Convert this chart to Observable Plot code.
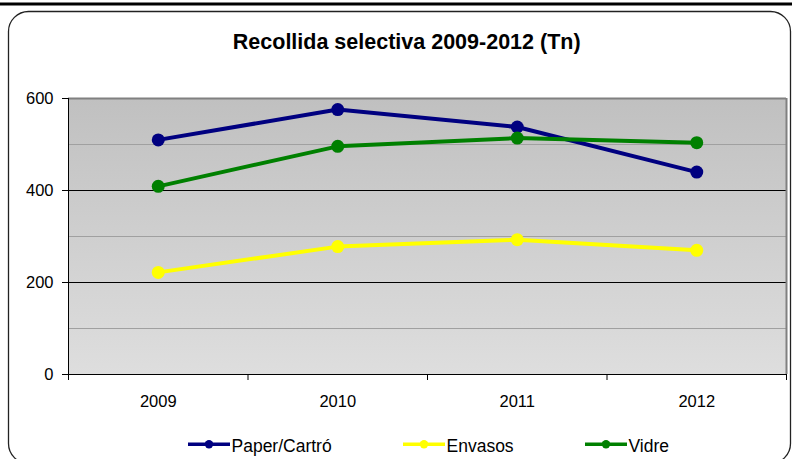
<!DOCTYPE html>
<html><head><meta charset="utf-8">
<script src="https://cdn.jsdelivr.net/npm/d3@7"></script>
<script src="https://cdn.jsdelivr.net/npm/@observablehq/plot@0.6"></script>
<style>body{margin:0;background:#fff} #chart svg{display:block}</style>
</head><body><div id="chart"></div>
<script>
const years = [2009, 2010, 2011, 2012];
const paperCarto = [510, 576, 538, 440];
const envasos = [222, 278, 293, 270];
const vidre = [409, 496, 514, 504];
const seriesNames = ["Paper/Cartró", "Envasos", "Vidre"];
const seriesColors = ["#000080", "#ffff00", "#008000"];
const yTicks = [0, 200, 400, 600];
const yMinor = [100, 300, 500];
const title = "Recollida selectiva 2009-2012 (Tn)";

const seriesValues = [paperCarto, envasos, vidre];
const rows = seriesNames.flatMap((name, s) =>
  years.map((year, i) => ({series: name, year, value: seriesValues[s][i]})));
const bounds = years.map(y => y - 0.5).concat([years[years.length - 1] + 0.5]);
const FONT = "'Liberation Sans', Arial, sans-serif";

const decor = () => {
  const g = d3.create("svg:g");
  const lg = g.append("defs").append("linearGradient").attr("id", "bgGrad")
    .attr("x1", 0).attr("y1", 0).attr("x2", 0).attr("y2", 1);
  lg.append("stop").attr("offset", 0).attr("stop-color", "#c0c0c0");
  lg.append("stop").attr("offset", 1).attr("stop-color", "#dedede");
  g.append("rect").attr("x", 0).attr("y", 2.5).attr("width", 792).attr("height", 3).attr("fill", "#000");
  g.append("rect").attr("x", 8.5).attr("y", 11.5).attr("width", 782).attr("height", 452)
    .attr("rx", 20).attr("fill", "none").attr("stroke", "#222").attr("stroke-width", 1.3);
  g.append("text").attr("x", 406.7).attr("y", 49).attr("text-anchor", "middle")
    .attr("font-family", FONT).attr("font-weight", "bold").attr("font-size", 21.5)
    .attr("fill", "#000").text(title);
  return g.node();
};

const legendX = [188, 403, 585];
const legend = () => {
  const g = d3.create("svg:g");
  seriesNames.forEach((name, i) => {
    const x0 = legendX[i];
    g.append("line").attr("x1", x0).attr("x2", x0 + 42).attr("y1", 444.3).attr("y2", 444.3)
      .attr("stroke", seriesColors[i]).attr("stroke-width", 3.5);
    g.append("circle").attr("cx", x0 + 21).attr("cy", 444.3).attr("r", 4.2).attr("fill", seriesColors[i]);
    g.append("text").attr("x", x0 + 43.5).attr("y", 451.5).attr("font-family", FONT)
      .attr("text-anchor", "start")
      .attr("font-size", 17.5).attr("fill", "#000").text(name);
  });
  return g.node();
};

const seriesMarks = seriesNames.flatMap(name => {
  const d = rows.filter(r => r.series === name);
  return [
    Plot.lineY(d, {x: "year", y: "value", stroke: "series", strokeWidth: 4}),
    Plot.dot(d, {x: "year", y: "value", fill: "series", r: 6.5})
  ];
});

const chart = Plot.plot({
  width: 792, height: 459,
  marginLeft: 68, marginRight: 6, marginTop: 98, marginBottom: 85,
  style: {fontFamily: FONT, fontSize: "16px", color: "#000", background: "transparent"},
  x: {domain: [bounds[0], bounds[bounds.length - 1]]},
  y: {domain: [0, 600]},
  color: {domain: seriesNames, range: seriesColors},
  marks: [
    decor,
    Plot.frame({fill: "url(#bgGrad)", stroke: null}),
    Plot.ruleY(yMinor, {stroke: "#a0a0a0"}),
    Plot.ruleY(yTicks.filter(t => t > 0 && t < 600), {stroke: "#000"}),
    Plot.ruleY([600], {stroke: "#808080", strokeWidth: 2}),
    Plot.ruleX([bounds[bounds.length - 1]], {stroke: "#808080", strokeWidth: 2}),
    Plot.ruleY([0], {stroke: "#000"}),
    Plot.ruleX([bounds[0]], {stroke: "#000"}),
    Plot.axisY({ticks: yTicks, tickSize: 6, tickPadding: 9, fontSize: 16.5, label: null}),
    Plot.axisX({ticks: bounds, tickSize: 6, tickFormat: () => "", label: null}),
    Plot.axisX({ticks: years, tickSize: 0, tickPadding: 21, tickFormat: d => String(d), fontSize: 16.5, label: null}),
    ...seriesMarks,
    legend
  ]
});
document.getElementById("chart").append(chart);
</script>
</body></html>
